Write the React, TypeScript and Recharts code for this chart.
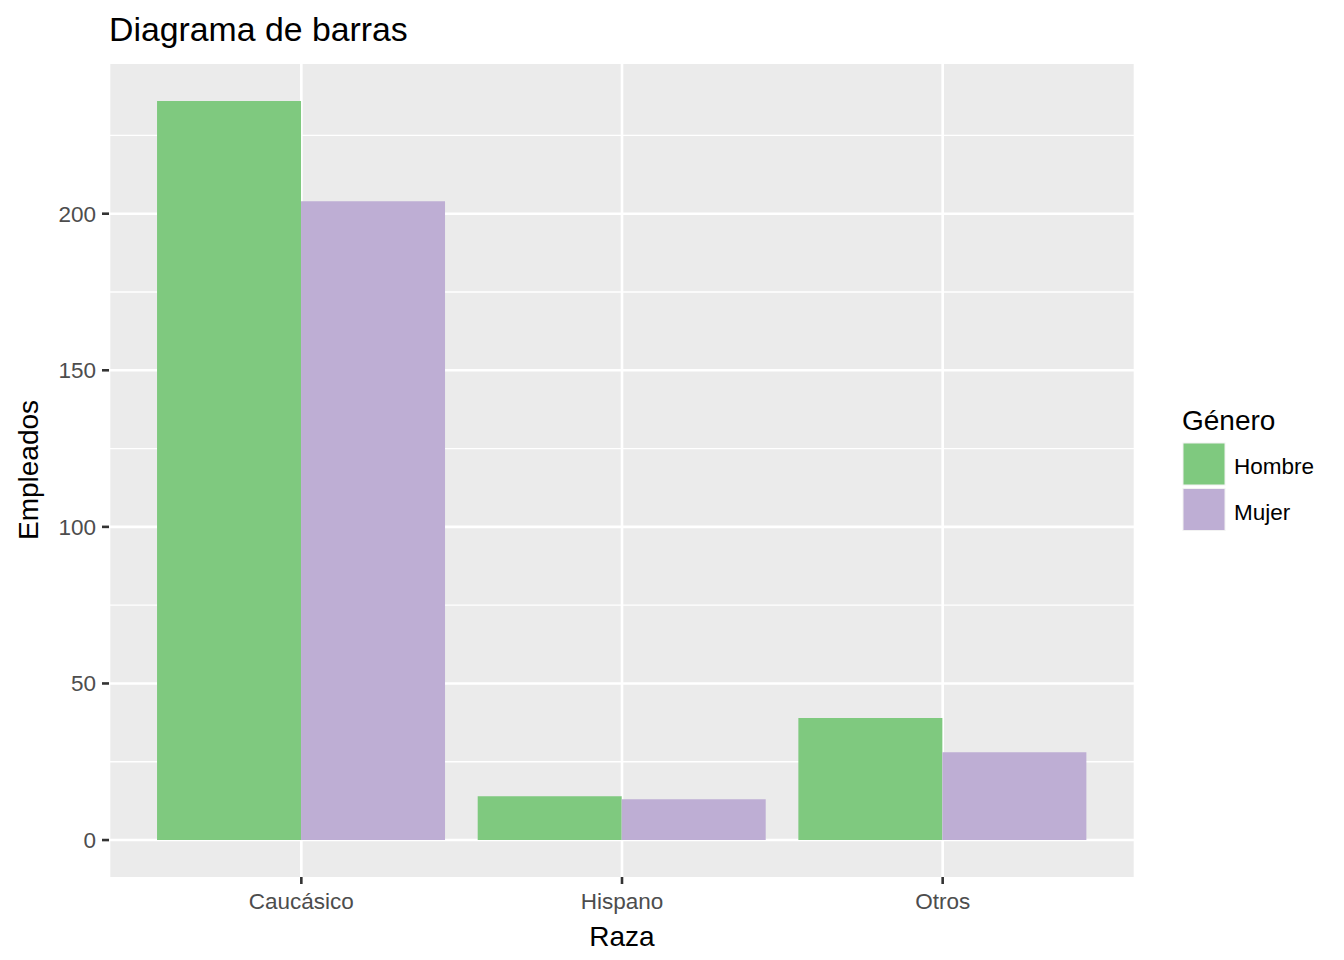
import React from "react";
import { BarChart, Bar, XAxis, YAxis, CartesianGrid } from "recharts";

const categorias = ["Caucásico", "Hispano", "Otros"];
const hombre = [236, 14, 39];
const mujer = [204, 13, 28];
const ticksY = [0, 50, 100, 150, 200];
const minorY = [25, 75, 125, 175, 225];

const series = [
  { key: "Hombre", color: "#7FC97F" },
  { key: "Mujer", color: "#BEAED4" },
];

const data = categorias.map((raza, i) => ({
  raza,
  Hombre: hombre[i],
  Mujer: mujer[i],
}));

const FONT = "'Liberation Sans', Arial, sans-serif";

const App: React.FC = () => {
  return (
    <div
      style={{
        position: "absolute",
        left: 0,
        top: 0,
        width: 1344,
        height: 960,
        background: "#fff",
        fontFamily: FONT,
      }}
    >
      <BarChart
        width={1344}
        height={960}
        data={data}
        margin={{ top: 64, right: 209, bottom: 0, left: 29 }}
        barCategoryGap="5%"
        barGap={0}
      >
        <CartesianGrid
          fill="#EBEBEB"
          stroke="#FFFFFF"
          strokeWidth={1.3}
          vertical={false}
          horizontalValues={minorY}
        />
        <CartesianGrid
          stroke="#FFFFFF"
          strokeWidth={2.6}
          horizontalValues={ticksY}
        />
        <XAxis
          dataKey="raza"
          height={83}
          padding={{ left: 32, right: 32 }}
          axisLine={false}
          tickSize={7}
          tickMargin={9}
          tickLine={{ stroke: "#333333", strokeWidth: 2.6 }}
          tick={{ fill: "#4D4D4D", fontSize: 22.5 }}
        />
        <YAxis
          width={80}
          domain={[-11.8, 247.8]}
          ticks={ticksY}
          allowDataOverflow
          axisLine={false}
          tickSize={7}
          tickMargin={6}
          tickLine={{ stroke: "#333333", strokeWidth: 2.6 }}
          tick={{ fill: "#4D4D4D", fontSize: 22.5 }}
        />
        {series.map((s) => (
          <Bar
            key={s.key}
            dataKey={s.key}
            fill={s.color}
            isAnimationActive={false}
          />
        ))}
      </BarChart>
      <svg
        width={1344}
        height={960}
        style={{ position: "absolute", left: 0, top: 0, pointerEvents: "none" }}
      >
        <text x={109} y={41} fontSize={33.8} fill="#000">
          Diagrama de barras
        </text>
        <text x={622} y={946} fontSize={28} fill="#000" textAnchor="middle">
          Raza
        </text>
        <text
          x={38}
          y={470}
          fontSize={28}
          fill="#000"
          textAnchor="middle"
          transform="rotate(-90 38 470)"
        >
          Empleados
        </text>
        <text x={1182} y={430} fontSize={28} fill="#000">
          Género
        </text>
        {series.map((s, i) => (
          <g key={s.key}>
            <rect
              x={1183}
              y={443 + i * 45.5}
              width={42}
              height={42}
              fill={s.color}
              stroke="#F2F2F2"
              strokeWidth={1}
            />
            <text x={1234} y={474 + i * 45.5} fontSize={22.5} fill="#000">
              {s.key}
            </text>
          </g>
        ))}
      </svg>
    </div>
  );
};

export default App;
